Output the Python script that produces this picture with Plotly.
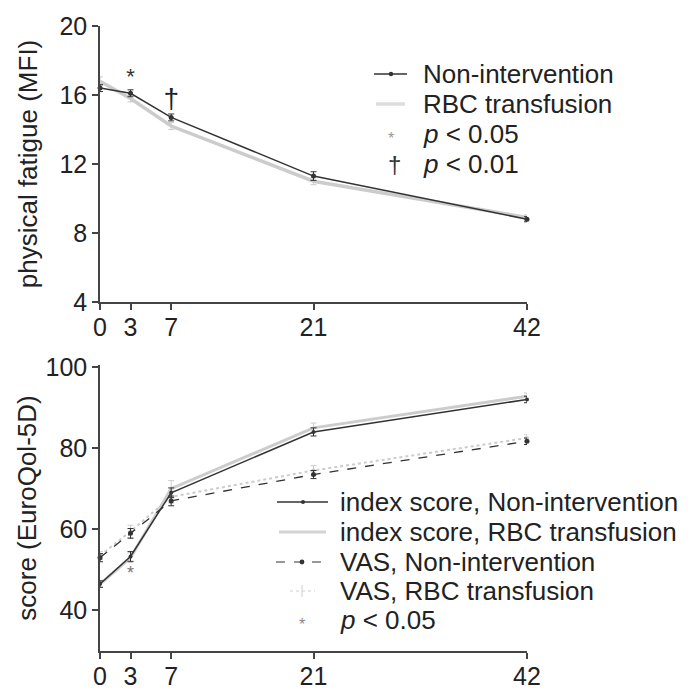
import plotly.graph_objects as go
from plotly.subplots import make_subplots

days = [0, 3, 7, 21, 42]
tick_vals = [0, 3, 7, 21, 42]

# Top: physical fatigue (MFI)
mfi_non = [16.4, 16.1, 14.7, 11.3, 8.8]
mfi_non_err = [0.2, 0.2, 0.2, 0.25, 0.15]
mfi_rbc = [16.8, 15.8, 14.2, 11.0, 8.9]
mfi_rbc_err = [0.25, 0.2, 0.2, 0.2, 0.15]
mfi_sig_x = [3]
mfi_sig_y = [16.95]
mfi_sig2_x = [7]
mfi_sig2_y = [15.65]

# Bottom: EuroQol-5D
idx_non = [46.5, 53.3, 69.0, 84.0, 92.0]
idx_non_err = [0.8, 1.2, 1.2, 1.0, 0.8]
idx_rbc = [46.5, 53.0, 70.0, 85.0, 92.8]
idx_rbc_err = [0.8, 1.2, 2.0, 1.2, 0.8]
vas_non = [53.0, 59.0, 67.0, 73.5, 81.7]
vas_non_err = [1.0, 1.2, 1.2, 1.0, 0.8]
vas_rbc = [53.5, 59.5, 68.0, 74.5, 82.5]
vas_rbc_err = [1.0, 1.5, 1.5, 1.2, 0.8]
eq_sig_x = [3]
eq_sig_y = [48.8]

legend_top = ["Non-intervention", "RBC transfusion", "<i>p</i> < 0.05", "<i>p</i> < 0.01"]
legend_bottom = ["index score, Non-intervention", "index score, RBC transfusion",
                 "VAS, Non-intervention", "VAS, RBC transfusion", "<i>p</i> < 0.05"]

DARK = "#333333"
LIGHT = "#cccccc"
FONT = "Liberation Sans, Arial, sans-serif"
FS_TICK = 25
FS_TEXT = 26

fig = make_subplots(rows=2, cols=1, vertical_spacing=0.1)

# --- top panel ---
fig.add_trace(go.Scatter(
    x=days, y=mfi_rbc, mode="lines", name=legend_top[1],
    line=dict(color=LIGHT, width=3.5),
    error_y=dict(type="data", array=mfi_rbc_err, color=LIGHT, thickness=1, width=3),
    cliponaxis=False, showlegend=False), row=1, col=1)
fig.add_trace(go.Scatter(
    x=days, y=mfi_non, mode="lines+markers", name=legend_top[0],
    line=dict(color=DARK, width=1.5), marker=dict(size=5, color=DARK),
    error_y=dict(type="data", array=mfi_non_err, color=DARK, thickness=1, width=3),
    cliponaxis=False, showlegend=False), row=1, col=1)
fig.add_trace(go.Scatter(
    x=mfi_sig_x, y=mfi_sig_y, mode="text", text=["*"], showlegend=False,
    textfont=dict(size=22, color="#333", family=FONT), cliponaxis=False), row=1, col=1)
fig.add_trace(go.Scatter(
    x=mfi_sig2_x, y=mfi_sig2_y, mode="text", text=["†"], showlegend=False,
    textfont=dict(size=28, color="#222", family=FONT), cliponaxis=False), row=1, col=1)

# --- bottom panel ---
fig.add_trace(go.Scatter(
    x=days, y=idx_rbc, mode="lines", name=legend_bottom[1],
    line=dict(color=LIGHT, width=3),
    error_y=dict(type="data", array=idx_rbc_err, color=LIGHT, thickness=1, width=3),
    cliponaxis=False, showlegend=False), row=2, col=1)
fig.add_trace(go.Scatter(
    x=days, y=vas_rbc, mode="lines+markers", name=legend_bottom[3],
    line=dict(color=LIGHT, width=2, dash="dot"), marker=dict(size=4, color=LIGHT),
    error_y=dict(type="data", array=vas_rbc_err, color=LIGHT, thickness=1, width=3),
    cliponaxis=False, showlegend=False), row=2, col=1)
fig.add_trace(go.Scatter(
    x=days, y=idx_non, mode="lines+markers", name=legend_bottom[0],
    line=dict(color=DARK, width=1.5), marker=dict(size=4, color=DARK),
    error_y=dict(type="data", array=idx_non_err, color=DARK, thickness=1, width=3),
    cliponaxis=False, showlegend=False), row=2, col=1)
fig.add_trace(go.Scatter(
    x=days, y=vas_non, mode="lines+markers", name=legend_bottom[2],
    line=dict(color=DARK, width=1.3, dash="dash"), marker=dict(size=5, color=DARK),
    error_y=dict(type="data", array=vas_non_err, color=DARK, thickness=1, width=3),
    cliponaxis=False, showlegend=False), row=2, col=1)
fig.add_trace(go.Scatter(
    x=eq_sig_x, y=eq_sig_y, mode="text", text=["*"], showlegend=False,
    textfont=dict(size=18, color="#777", family=FONT), cliponaxis=False), row=2, col=1)

# window-pixel layout helpers (page body adds an 8px offset)
PLOT_TOP, PLOT_BOTTOM, PLOT_LEFT, PLOT_RIGHT = 26, 651, 100, 527
PH = PLOT_BOTTOM - PLOT_TOP
PW = PLOT_RIGHT - PLOT_LEFT

axis_common = dict(
    showline=True, linecolor="#444", linewidth=1.5, ticks="outside",
    ticklen=6, tickwidth=1.5, tickcolor="#444", showgrid=False, zeroline=False,
    automargin=False, ticklabeloverflow="allow",
    tickfont=dict(size=FS_TICK, color="#222", family=FONT),
)
fig.update_xaxes(**axis_common, tickvals=tick_vals, range=[0, 42], ticklabelstandoff=-4)
fig.update_yaxes(**axis_common)
fig.update_xaxes(domain=[0, 1])
fig.update_yaxes(row=1, col=1, range=[4, 20], tickvals=[4, 8, 12, 16, 20],
                 domain=[(PLOT_BOTTOM - 302) / PH, 1.0],
                 title=dict(text="physical fatigue (MFI)", font=dict(size=FS_TEXT, color="#222", family=FONT), standoff=14))
fig.update_yaxes(row=2, col=1, range=[30, 100.5], tickvals=[40, 60, 80, 100],
                 domain=[0, (PLOT_BOTTOM - 365) / PH],
                 title=dict(text="score (EuroQol-5D)", font=dict(size=FS_TEXT, color="#222", family=FONT), standoff=1))


# ---- hand-drawn legends (paper coordinates) ----
def px(wx):
    return (wx - PLOT_LEFT) / PW


def py(wy):
    return (PLOT_BOTTOM - wy) / PH


shapes = []
annotations = []


def leg_line(x0, x1, y, color, width, dash="solid"):
    shapes.append(dict(type="line", xref="paper", yref="paper", x0=px(x0), x1=px(x1),
                       y0=py(y), y1=py(y), line=dict(color=color, width=width, dash=dash)))


def leg_dot(x, y, r, color):
    shapes.append(dict(type="circle", xref="paper", yref="paper", x0=px(x - r), x1=px(x + r),
                       y0=py(y + r), y1=py(y - r), fillcolor=color, line=dict(width=0)))


def leg_vbar(x, y, h, color):
    shapes.append(dict(type="line", xref="paper", yref="paper", x0=px(x), x1=px(x),
                       y0=py(y - h), y1=py(y + h), line=dict(color=color, width=1)))


def leg_text(x, y, text, size=FS_TEXT, color="#222"):
    annotations.append(dict(xref="paper", yref="paper", x=px(x), y=py(y), text=text,
                            showarrow=False, xanchor="left", yanchor="middle",
                            font=dict(size=size, color=color, family=FONT)))


def leg_sym(x, y, text, size, color):
    annotations.append(dict(xref="paper", yref="paper", x=px(x), y=py(y), text=text,
                            showarrow=False, xanchor="center", yanchor="middle",
                            font=dict(size=size, color=color, family=FONT)))


# top legend
top_rows = [74, 104, 134, 164]
leg_line(374, 407, top_rows[0], DARK, 1.3)
leg_dot(391, top_rows[0], 2.2, DARK)
leg_line(376, 405, top_rows[1], "#dddddd", 3.5)
leg_sym(391, top_rows[2] + 4, "*", 16, "#999")
leg_sym(394, top_rows[3], "†", 24, "#333")
for ry, t in zip(top_rows, legend_top):
    leg_text(421, ry, t)

# bottom legend
bot_rows = [502, 532, 562, 591, 620]
leg_line(277, 328, bot_rows[0], DARK, 1.3)
leg_dot(303, bot_rows[0], 2.0, DARK)
leg_line(279, 326, bot_rows[1], "#d4d4d4", 3)
leg_line(276, 330, bot_rows[2], DARK, 1.2, "dash")
leg_dot(302, bot_rows[2], 2.4, DARK)
leg_line(290, 315, bot_rows[3], "#e0e0e0", 1.5, "dot")
leg_vbar(302, bot_rows[3], 6, "#cfcfcf")
leg_sym(302, bot_rows[4] + 4, "*", 16, "#888")
for ry, t in zip(bot_rows, legend_bottom):
    leg_text(338, ry, t)

fig.update_layout(
    width=682, height=687,
    margin=dict(l=PLOT_LEFT - 8, r=682 - (PLOT_RIGHT - 8), t=PLOT_TOP - 8, b=687 - (PLOT_BOTTOM - 8)),
    plot_bgcolor="white", paper_bgcolor="white",
    font=dict(family=FONT, size=FS_TEXT, color="#222"),
    showlegend=False,
    shapes=shapes, annotations=annotations,
)

fig.write_html("out.html")
